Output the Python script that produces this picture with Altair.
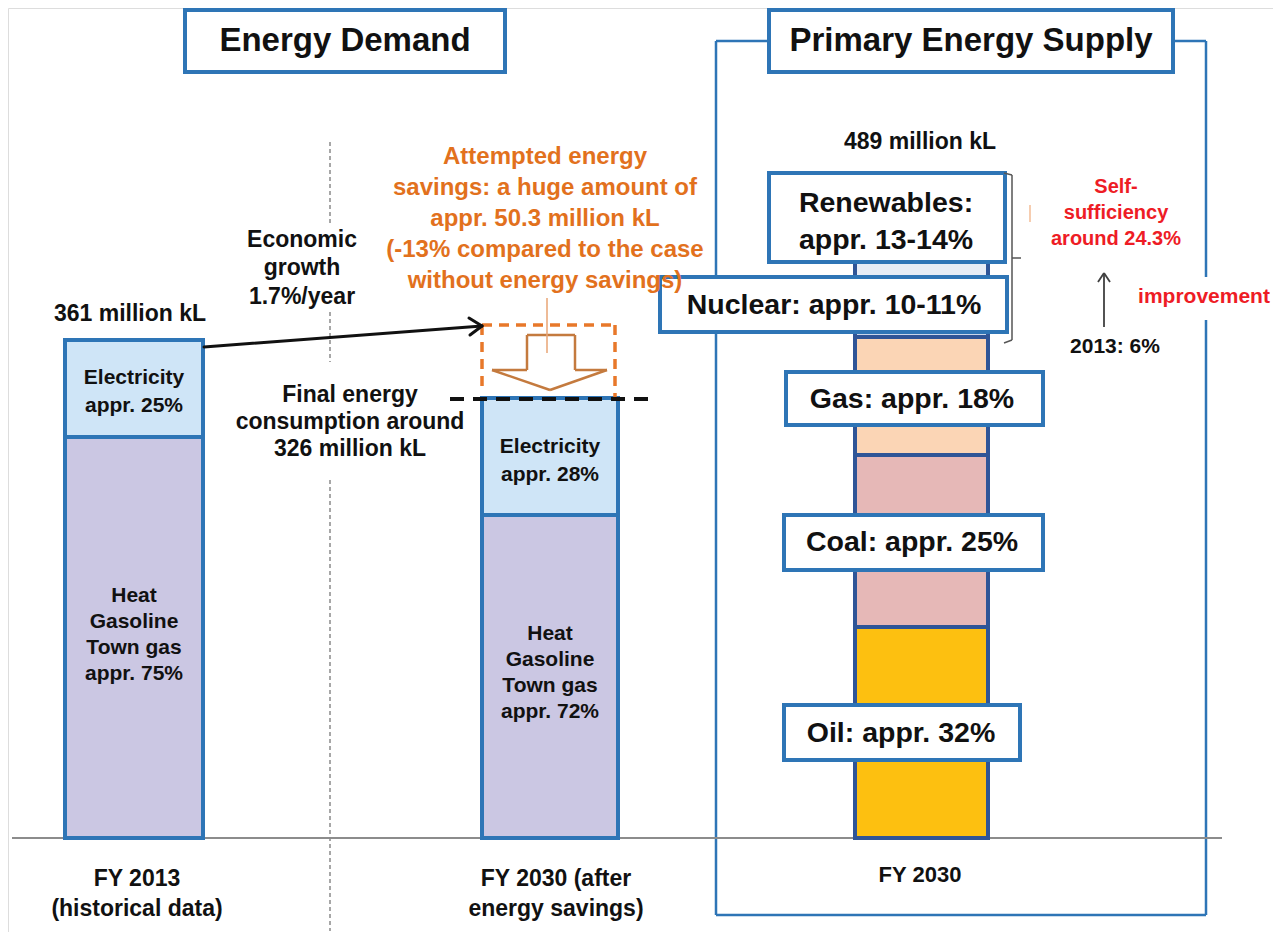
import altair as alt
import pandas as pd

# ------------------------------------------------------------------
# Data (million kL as drawn)
# ------------------------------------------------------------------
demand_periods = ["FY 2013", "FY 2030"]
demand_heat = [290.7, 234.1]        # Heat / Gasoline / Town gas (bottom segment)
demand_elec = [70.3, 84.8]          # Electricity (top segment)
demand_elec_labels = ["Electricity\nappr. 25%", "Electricity\nappr. 28%"]
demand_heat_labels = ["Heat\nGasoline\nTown gas\nappr. 75%", "Heat\nGasoline\nTown gas\nappr. 72%"]
period_labels = ["FY 2013\n(historical data)", "FY 2030 (after\nenergy savings)"]

supply_sources = ["Oil", "Coal", "Gas", "Nuclear", "Renewables"]   # bottom -> top
supply_values = [153.0, 124.7, 85.5, 23.2, 31.2]
supply_labels = ["Oil: appr. 32%", "Coal: appr. 25%", "Gas: appr. 18%",
                 "Nuclear: appr. 10-11%", "Renewables:\nappr. 13-14%"]

# ------------------------------------------------------------------
# Layout / styles
# ------------------------------------------------------------------
W, H = 1265, 924
K = 1.3795            # px per million kL
BASE_PX = 838         # baseline pixel row
FONT = "Liberation Sans, Arial, sans-serif"
BLUE = "#2E75B6"
NAVY = "#2F5597"
ORANGE = "#E2711D"
RED = "#EE1C25"


def yv(px):
    return (BASE_PX - px) / K


xs = alt.Scale(domain=[8, 8 + W], nice=False, zero=False)
ys = alt.Scale(domain=[yv(8 + H), yv(8)], nice=False, zero=False)

demand_bar_x = {"FY 2013": (65, 203), "FY 2030": (482, 618)}
supply_bar_x = (855, 988)
demand_fill = {"elec": "#CFE5F7", "heat": "#CBC7E3"}
supply_fill = {"Oil": "#FDC010", "Coal": "#E6B8B7", "Gas": "#FBD5B5",
               "Nuclear": "#C9D6EA", "Renewables": "#E6ECF5"}

# ---------------- bars ----------------
rows = []
for p, h, e in zip(demand_periods, demand_heat, demand_elec):
    x0, x1 = demand_bar_x[p]
    rows.append(dict(x=x0, x2=x1, y=0, y2=h, fill=demand_fill["heat"], stroke=BLUE))
    rows.append(dict(x=x0, x2=x1, y=h, y2=h + e, fill=demand_fill["elec"], stroke=BLUE))
cum = 0.0
for s, v in zip(supply_sources, supply_values):
    rows.append(dict(x=supply_bar_x[0], x2=supply_bar_x[1], y=cum, y2=cum + v,
                     fill=supply_fill[s], stroke=NAVY))
    cum += v
bars_df = pd.DataFrame(rows)

bars = alt.Chart(bars_df).mark_rect(strokeWidth=4).encode(
    x=alt.X("x:Q", scale=xs, axis=None), x2="x2:Q",
    y=alt.Y("y:Q", scale=ys, axis=None), y2="y2:Q",
    fill=alt.Fill("fill:N", scale=None, legend=None),
    stroke=alt.Stroke("stroke:N", scale=None, legend=None),
)


def rects(boxes, **kw):
    df = pd.DataFrame([dict(x=a, x2=b, y=yv(c), y2=yv(d)) for a, b, c, d in boxes])
    return alt.Chart(df).mark_rect(**kw).encode(
        x=alt.X("x:Q", scale=xs, axis=None), x2="x2:Q",
        y=alt.Y("y:Q", scale=ys, axis=None), y2="y2:Q")


def rules(segs, **kw):
    df = pd.DataFrame([dict(x=a, y=yv(b), x2=c, y2=yv(d)) for a, b, c, d in segs])
    return alt.Chart(df).mark_rule(**kw).encode(
        x=alt.X("x:Q", scale=xs, axis=None), x2="x2:Q",
        y=alt.Y("y:Q", scale=ys, axis=None), y2="y2:Q")


def polyline(pts):
    return [(pts[i][0], pts[i][1], pts[i + 1][0], pts[i + 1][1]) for i in range(len(pts) - 1)]


# frame around primary energy supply
frame = rules(polyline([(769, 41), (716, 41), (716, 915), (1206, 915), (1206, 320)])
              + polyline([(1206, 277), (1206, 41), (1173, 41)]),
              color=BLUE, strokeWidth=2.5)
baseline = rules([(12, 838, 1222, 838)], color="#8C8C8C", strokeWidth=2)
vdash = rules([(330, 142, 330, 223), (330, 312, 330, 362), (330, 480, 330, 931)],
              color="#8A8A8A", strokeWidth=1.5, strokeDash=[4, 3])

black_dash = rules([(450, 399, 650, 399)], color="#111111", strokeWidth=4, strokeDash=[14, 9])
orange_box = rules([(482, 325, 615, 325), (615, 325, 615, 397), (482, 325, 482, 390)],
                   color="#E8782A", strokeWidth=3.5, strokeDash=[10, 7])
hollow_arrow = rules(polyline([(527, 335), (575, 335), (575, 370), (607, 370), (550, 390),
                               (492, 370), (527, 370), (527, 335)]),
                     color="#C47A3E", strokeWidth=2.5)
thin_orange = rules([(547, 298, 547, 353)], color="#E9A574", strokeWidth=1.5)
growth_arrow = rules([(204, 347, 482, 326), (469, 318, 482, 326), (482, 326, 470, 335)],
                     color="#111111", strokeWidth=3, strokeCap="round")
up_arrow = rules([(1104, 327, 1104, 273), (1098, 282, 1104, 273), (1104, 273, 1110, 282)],
                 color="#404040", strokeWidth=1.8)
bracket = rules(polyline([(1004, 173), (1012, 175), (1012, 340), (1004, 343)])
                + [(1012, 258, 1021, 258)], color="#555555", strokeWidth=1.5)
faint_tick = rules([(1030, 205, 1030, 222)], color="#F6CDB0", strokeWidth=2)

boxes = rects([(185, 505, 10, 72), (769, 1173, 10, 72),
               (769, 1005, 173, 262), (660, 1007, 277, 332),
               (786, 1043, 372, 425), (784, 1043, 515, 570), (784, 1020, 705, 760)],
              fill="white", stroke=BLUE, strokeWidth=4)

# ---------------- texts ----------------
T = []


def add(x, y, txt, size, color="#111111", lh=None):
    lines = txt.split("\n")
    lh = lh or size * 1.25
    for i, ln in enumerate(lines):
        T.append(dict(x=x, y=yv(y + (i - (len(lines) - 1) / 2) * lh), t=ln, s=size, c=color))


add(345, 41, "Energy Demand", 33)
add(971, 41, "Primary Energy Supply", 33)
add(130, 314, "361 million kL", 23)
add(302, 268, "Economic\ngrowth\n1.7%/year", 23, lh=28.5)
add(545, 219, "Attempted energy\nsavings: a huge amount of\nappr. 50.3 million kL\n"
    "(-13% compared to the case\nwithout energy savings)", 24, ORANGE, lh=31)
add(350, 422, "Final energy\nconsumption around\n326 million kL", 23, lh=27)
elec_y = [392, 461]
heat_y = [635, 673]
for i, p in enumerate(demand_periods):
    cx = sum(demand_bar_x[p]) / 2
    add(cx, elec_y[i], demand_elec_labels[i], 21, lh=28)
    add(cx, heat_y[i], demand_heat_labels[i], 21, lh=26)
add(137, 894, period_labels[0], 23, lh=30)
add(556, 894, period_labels[1], 23, lh=30)
add(920, 142, "489 million kL", 23)
supply_label_pos = [(901, 733), (912, 542), (912, 399), (834, 305), (886, 221)]
for lbl, (lx, ly) in zip(supply_labels, supply_label_pos):
    add(lx, ly, lbl, 28.5, lh=37)
add(920, 875, "FY 2030", 22)
add(1116, 213, "Self-\nsufficiency\naround 24.3%", 20, RED, lh=26)
add(1204, 297, "improvement", 21, RED)
add(1115, 347, "2013: 6%", 21)

texts = alt.Chart(pd.DataFrame(T)).mark_text(
    font=FONT, fontWeight="bold", baseline="middle", align="center").encode(
    x=alt.X("x:Q", scale=xs, axis=None),
    y=alt.Y("y:Q", scale=ys, axis=None),
    text="t:N",
    size=alt.Size("s:Q", scale=None, legend=None),
    color=alt.Color("c:N", scale=None, legend=None),
)

chart = alt.layer(
    frame, baseline, vdash, bars, black_dash, orange_box, hollow_arrow, thin_orange,
    growth_arrow, boxes, bracket, faint_tick, up_arrow, texts
).properties(
    width=W, height=H, padding=0,
    autosize=alt.AutoSizeParams(type="none"),
).configure_view(stroke="transparent", strokeWidth=0).configure(background="white")

chart.save("out.html", embed_options={"renderer": "svg", "actions": False})
